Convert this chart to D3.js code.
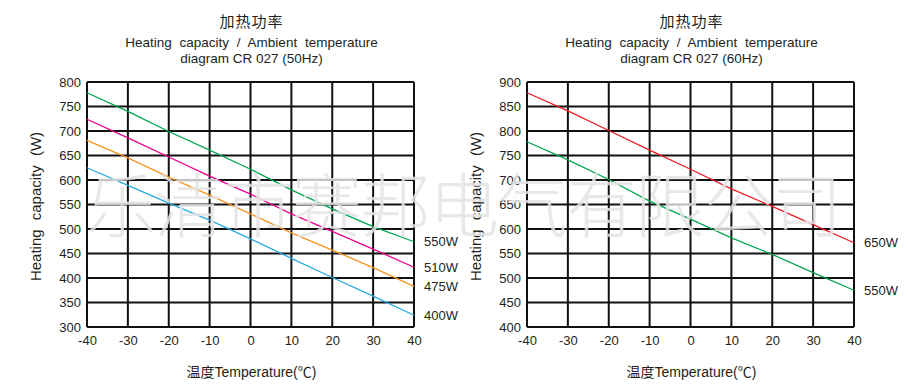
<!DOCTYPE html>
<html>
<head>
<meta charset="utf-8">
<script src="https://cdn.jsdelivr.net/npm/d3@7"></script>
<style>
  body { margin: 0; background: #fff; }
  svg text { font-family: "Liberation Sans", Arial, sans-serif; fill: #231f20; }
  .cjk { font-family: "Noto Sans CJK SC", sans-serif; }
</style>
</head>
<body>
<div id="chart"></div>
<script>
// Temperatures on the x axis (°C)
var temps = [-40, -30, -20, -10, 0, 10, 20, 30, 40];

// 50Hz panel, heating capacity (W) read at each temperature
var cap550w50 = [778, 740, 699, 661, 622, 580, 541, 505, 474];
var cap510w50 = [724, 686, 647, 608, 571, 531, 495, 459, 422];
var cap475w50 = [681, 645, 606, 569, 531, 492, 457, 421, 383];
var cap400w50 = [625, 589, 553, 518, 480, 440, 401, 363, 324];

// 60Hz panel
var cap650w60 = [878, 841, 801, 761, 722, 682, 646, 609, 572];
var cap550w60 = [778, 741, 701, 657, 620, 582, 548, 511, 475];

var yTicks50 = d3.range(300, 801, 50);
var yTicks60 = d3.range(400, 901, 50);

var W = 910, H = 388;
var svg = d3.select("#chart").append("svg")
    .attr("width", W)
    .attr("height", H);

function drawPanel(opt) {
    var g = svg.append("g");
    var x = d3.scaleLinear().domain([-40, 40]).range([opt.left, opt.right]);
    var y = d3.scaleLinear().domain([opt.yTicks[0], opt.yTicks[opt.yTicks.length - 1]]).range([opt.bottom, opt.top]);
    var cx = (opt.left + opt.right) / 2;

    // titles
    g.append("text").attr("class", "cjk")
        .attr("x", cx + 1).attr("y", 27)
        .attr("text-anchor", "middle")
        .style("font-size", "15px")
        .style("letter-spacing", "1px")
        .text("加热功率");
    g.append("text")
        .attr("x", cx + 1).attr("y", 47)
        .attr("text-anchor", "middle")
        .style("font-size", "13.5px")
        .style("word-spacing", "4px")
        .text("Heating capacity / Ambient temperature");
    g.append("text")
        .attr("x", cx + 1).attr("y", 63)
        .attr("text-anchor", "middle")
        .style("font-size", "13.5px")
        .text(opt.subtitle);

    // grid
    g.selectAll(".hgrid")
        .data(opt.yTicks)
        .enter().append("line")
        .attr("x1", opt.left).attr("x2", opt.right)
        .attr("y1", d => y(d)).attr("y2", d => y(d))
        .attr("stroke", "#111").attr("stroke-width", 1.8);
    g.selectAll(".vgrid")
        .data(temps)
        .enter().append("line")
        .attr("x1", d => x(d)).attr("x2", d => x(d))
        .attr("y1", opt.top).attr("y2", opt.bottom)
        .attr("stroke", "#111").attr("stroke-width", 2);

    // axes (labels only, gridlines are the ticks)
    var yAxis = g.append("g")
        .attr("transform", "translate(" + (opt.left - 6) + ",0)")
        .call(d3.axisLeft(y).tickValues(opt.yTicks).tickSize(0).tickPadding(0));
    yAxis.select(".domain").remove();
    yAxis.selectAll("text")
        .style("font-size", "13px")
        .style("font-family", "Liberation Sans, Arial, sans-serif")
        .attr("fill", "#231f20");

    var xAxis = g.append("g")
        .attr("transform", "translate(0," + (opt.bottom + 9) + ")")
        .call(d3.axisBottom(x).tickValues(temps).tickFormat(d => String(d)).tickSize(0).tickPadding(0));
    xAxis.select(".domain").remove();
    xAxis.selectAll("text")
        .style("font-size", "13px")
        .style("font-family", "Liberation Sans, Arial, sans-serif")
        .attr("fill", "#231f20");

    // axis titles
    g.append("text")
        .attr("transform", "translate(" + (opt.left - 46) + "," + ((opt.top + opt.bottom) / 2 + 2) + ") rotate(-90)")
        .attr("text-anchor", "middle")
        .style("font-size", "15px")
        .style("word-spacing", "5px")
        .text("Heating capacity (W)");
    var xt = g.append("text")
        .attr("x", cx + 1).attr("y", 377)
        .attr("text-anchor", "middle")
        .style("font-size", "14px");
    xt.append("tspan").attr("class", "cjk").text("温度");
    xt.append("tspan").text("Temperature(");
    xt.append("tspan").attr("class", "cjk").text("℃");
    xt.append("tspan").text(")");

    // series
    var line = d3.line().x((d, i) => x(temps[i])).y(d => y(d));
    opt.series.forEach(function (s) {
        g.append("path")
            .datum(s.values)
            .attr("fill", "none")
            .attr("stroke", s.color)
            .attr("stroke-width", 1.3)
            .attr("d", line);
        g.append("text")
            .attr("x", opt.right + 10)
            .attr("y", y(s.values[s.values.length - 1]))
            .attr("dy", "0.35em")
            .style("font-size", "13px")
            .text(s.label);
    });
}

drawPanel({
    left: 87, right: 414, top: 82, bottom: 327,
    yTicks: yTicks50,
    subtitle: "diagram CR 027 (50Hz)",
    series: [
        {label: "550W", color: "#00a651", values: cap550w50},
        {label: "510W", color: "#ec008c", values: cap510w50},
        {label: "475W", color: "#f7941d", values: cap475w50},
        {label: "400W", color: "#27aae1", values: cap400w50}
    ]
});

drawPanel({
    left: 527, right: 854, top: 82, bottom: 327,
    yTicks: yTicks60,
    subtitle: "diagram CR 027 (60Hz)",
    series: [
        {label: "650W", color: "#ed1c24", values: cap650w60},
        {label: "550W", color: "#00a651", values: cap550w60}
    ]
});

// watermark across both panels
svg.append("text")
    .attr("class", "cjk")
    .attr("x", 86).attr("y", 201)
    .attr("dominant-baseline", "central")
    .attr("textLength", 756)
    .attr("lengthAdjust", "spacing")
    .style("font-size", "70px")
    .style("font-weight", 300)
    .style("fill", "#e4e4e4")
    .style("fill-opacity", 0.85)
    .text("乐清市赛邦电气有限公司");
</script>
</body>
</html>
